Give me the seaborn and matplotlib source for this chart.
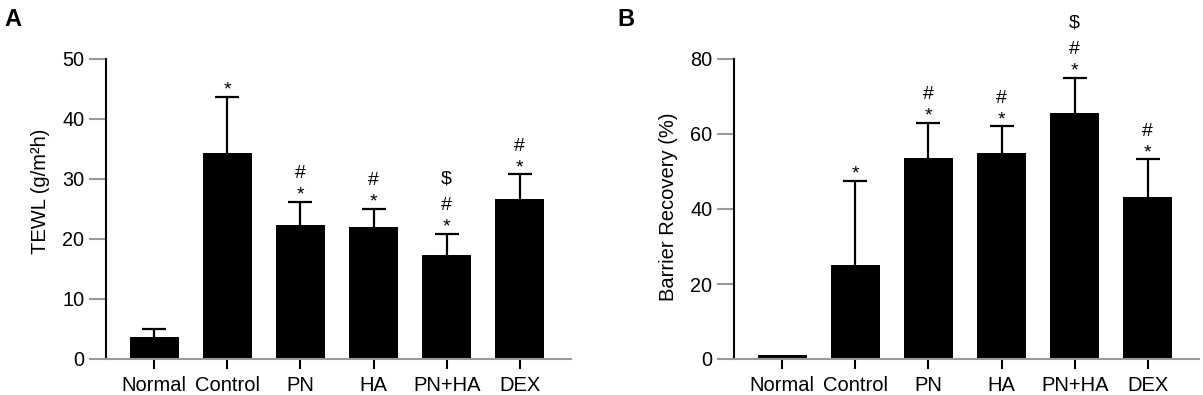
import matplotlib

matplotlib.use("Agg")

import matplotlib.pyplot as plt
import numpy as np
import pandas as pd
import seaborn as sns

# --- data ---
groups = ["Normal", "Control", "PN", "HA", "PN+HA", "DEX"]

tewl_mean = [3.7, 34.4, 22.4, 22.0, 17.3, 26.6]
tewl_sd = [1.3, 9.3, 3.8, 3.0, 3.6, 4.2]
tewl_sig = ["", "*", "*#", "*#", "*#$", "*#"]

recov_mean = [1.0, 25.1, 53.7, 54.8, 65.7, 43.2]
recov_sd = [0.0, 22.4, 9.3, 7.3, 9.3, 10.0]
recov_sig = ["", "*", "*#", "*#", "*#$", "*#"]

sns.set_style("ticks")
plt.rcParams["font.family"] = ["Liberation Sans", "DejaVu Sans"]
plt.rcParams["text.color"] = "black"
plt.rcParams["axes.labelcolor"] = "black"

GREY = "#9a9a9a"
# vertical offset (points) of each significance symbol above the error bar
SYM_OFFSET = {"*": 1.5, "#": 17.0, "$": 36.0}


def draw_panel(ax, mean, sd, sig, ylabel, ymax, yticks, label_y):
    df = pd.DataFrame({"group": groups, "value": mean})
    sns.barplot(data=df, x="group", y="value", color="black", saturation=1,
                width=0.67, errorbar=None, linewidth=0, ax=ax)

    # upper half of the SD bar only (GraphPad style); skip zero-SD groups
    x = np.arange(len(groups))
    m = np.asarray(mean)
    e = np.asarray(sd)
    keep = e > 0
    _, caps, _ = ax.errorbar(x[keep], m[keep],
                             yerr=[np.zeros(keep.sum()), e[keep]], fmt="none",
                             ecolor="black", elinewidth=1.6, capsize=8.3,
                             capthick=1.6, zorder=3)
    caps[0].set_visible(False)

    for i, s in enumerate(sig):
        top = mean[i] + sd[i]
        for ch in s:
            ax.annotate(ch, (i, top), xytext=(0, SYM_OFFSET[ch]),
                        textcoords="offset points", ha="center",
                        va="baseline", fontsize=14, color="black")

    ax.set_xlim(-0.66, len(groups) - 1 + 0.70)
    ax.set_ylim(0, ymax)
    ax.set_yticks(yticks)
    ax.set_xlabel("")
    ax.set_ylabel(ylabel, fontsize=14.5, va="center", color="black")
    ax.yaxis.set_label_coords(-0.14, label_y)

    sns.despine(ax=ax)
    ax.spines["left"].set_color("black")
    ax.spines["left"].set_linewidth(1.5)
    ax.spines["bottom"].set_color(GREY)
    ax.spines["bottom"].set_linewidth(1.5)
    ax.tick_params(axis="y", length=12, width=1.5, color=GREY,
                   labelcolor="black", labelsize=14.3, pad=3.5)
    ax.tick_params(axis="x", length=7, width=1.5, color="black",
                   labelcolor="black", labelsize=14.5, pad=5)


fig = plt.figure(figsize=(12.03, 3.95), dpi=100)
ax_a = fig.add_axes([106 / 1203, 36 / 395, 465 / 1203, 300 / 395])
ax_b = fig.add_axes([734 / 1203, 36 / 395, 465 / 1203, 300 / 395])

draw_panel(ax_a, tewl_mean, tewl_sd, tewl_sig, "TEWL (g/m²h)", 50,
           [0, 10, 20, 30, 40, 50], 0.56)
draw_panel(ax_b, recov_mean, recov_sd, recov_sig, "Barrier Recovery (%)", 80,
           [0, 20, 40, 60, 80], 0.507)

fig.text(4 / 1203, 1 - 7.5 / 395, "A", fontsize=17, fontweight="bold",
         va="top", color="black")
fig.text(617 / 1203, 1 - 7.5 / 395, "B", fontsize=17, fontweight="bold",
         va="top", color="black")

fig.savefig("out.png", dpi=100)
plt.close(fig)
